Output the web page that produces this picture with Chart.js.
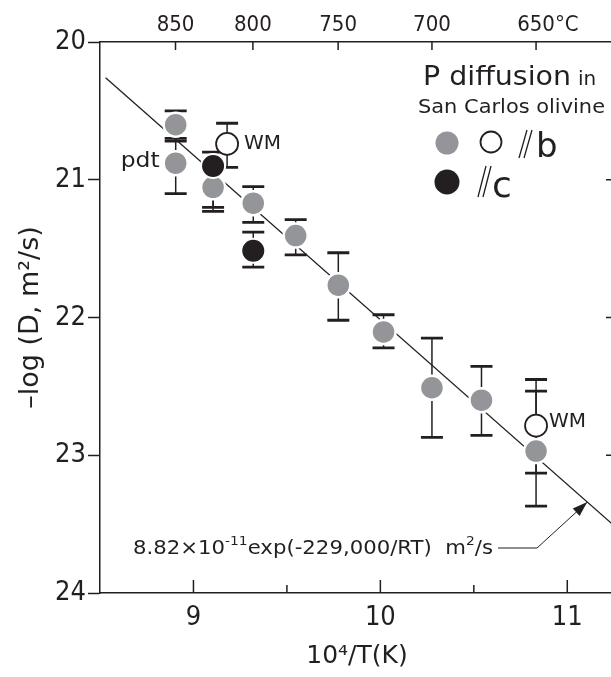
<!DOCTYPE html>
<html>
<head>
<meta charset="utf-8">
<title>P diffusion in San Carlos olivine</title>
<script src="https://cdn.jsdelivr.net/npm/chart.js@4.4.0/dist/chart.umd.min.js"></script>
<style>
  html, body { margin:0; padding:0; background:#fff; overflow:hidden; }
  #wrap { width:614px; height:677px; }
</style>
</head>
<body>
<div id="wrap"><canvas id="chart" width="614" height="677"></canvas></div>
<script>
/* -log D (m^2/s) against 10^4/T(K) */

// grey filled circles: // b
const grayX  = [8.905, 8.905, 9.105, 9.32, 9.547, 9.775, 10.017, 10.276, 10.541, 10.833];
const grayY  = [20.60, 20.88, 21.055, 21.17, 21.405, 21.765, 22.105, 22.51, 22.60, 22.97];
const grayLo = [20.50, 20.72, 20.93, 21.05, 21.29, 21.53, 21.98, 22.15, 22.355, 22.45];
const grayHi = [20.70, 21.10, 21.23, 21.31, 21.545, 22.02, 22.22, 22.87, 22.855, 23.37];

// open circles (WM): // b
const openX  = [9.18, 10.833];
const openY  = [20.74, 22.785];
const openLo = [20.59, 22.535];
const openHi = [20.91, 23.13];

// black circles: // c
const blackX  = [9.105, 9.32];
const blackY  = [20.90, 21.515];
const blackLo = [20.80, 21.38];
const blackHi = [21.20, 21.635];

// Arrhenius fit line, read at both ends
const fitX = [8.53, 11.25];
const fitY = [20.26, 23.51];

const xTicks = [9, 9.5, 10, 10.5, 11];
const yTicks = [20, 21, 22, 23, 24];
const tempLabels = ["850", "800", "750", "700", "650"];
const tempX = [8.904, 9.318, 9.774, 10.276, 10.833];

const INK = "#231f20";
const GRAY = "#939598";
const TICK_FONT = "'DejaVu Sans Condensed', 'Liberation Sans Narrow', 'DejaVu Sans', sans-serif";
const TEXT_FONT = "'DejaVu Sans', 'Liberation Sans', sans-serif";

function pts(xs, ys){
  return xs.map((x,i)=>({x:x, y:ys[i]}));
}

function txt(ctx, str, x, y, size, align){
  ctx.font = size + "px " + TEXT_FONT;
  ctx.textAlign = align || "left";
  ctx.textBaseline = "alphabetic";
  ctx.fillText(str, x, y);
}

// pieces of text with superscripts, squeezed/stretched to a width if given
function richText(ctx, segs, x, y, targetW){
  let w = 0;
  segs.forEach(s=>{ ctx.font = s.size + "px " + TEXT_FONT; w += ctx.measureText(s.t).width; });
  const sx = targetW ? targetW / w : 1;
  ctx.save();
  ctx.translate(x, y);
  ctx.scale(sx, 1);
  let cx = 0;
  segs.forEach(s=>{
    ctx.font = s.size + "px " + TEXT_FONT;
    ctx.textAlign = "left";
    ctx.textBaseline = "alphabetic";
    ctx.fillText(s.t, cx, s.dy || 0);
    cx += ctx.measureText(s.t).width;
  });
  ctx.restore();
}

function slashes(ctx, x, yTop, yBot){
  ctx.lineWidth = 1.3;
  ctx.beginPath();
  ctx.moveTo(x, yBot); ctx.lineTo(x + 8, yTop);
  ctx.moveTo(x + 5, yBot); ctx.lineTo(x + 13, yTop);
  ctx.stroke();
}

/* PLUGINS */
const errorBars = {
  id: "errorBars",
  beforeDatasetsDraw(chart){
    const {ctx, scales:{x, y}} = chart;
    const sets = [[grayX, grayLo, grayHi], [openX, openLo, openHi], [blackX, blackLo, blackHi]];
    ctx.save();
    ctx.strokeStyle = INK;
    sets.forEach(([xs, lo, hi])=>{
      xs.forEach((v,i)=>{
        const px = x.getPixelForValue(v);
        const p1 = y.getPixelForValue(lo[i]);
        const p2 = y.getPixelForValue(hi[i]);
        ctx.lineWidth = 1.5;
        ctx.beginPath(); ctx.moveTo(px, p1); ctx.lineTo(px, p2); ctx.stroke();
        ctx.lineWidth = 2.8;
        ctx.beginPath();
        ctx.moveTo(px - 11, p1); ctx.lineTo(px + 11, p1);
        ctx.moveTo(px - 11, p2); ctx.lineTo(px + 11, p2);
        ctx.stroke();
      });
    });
    ctx.restore();
  }
};

const decor = {
  id: "decor",
  afterDraw(chart){
    const {ctx, chartArea:a, scales:{x, y}} = chart;
    ctx.save();
    ctx.strokeStyle = INK;
    ctx.fillStyle = INK;

    // inward ticks: bottom, top, right
    ctx.lineWidth = 1.5;
    ctx.beginPath();
    xTicks.forEach(v=>{
      const px = x.getPixelForValue(v);
      const len = Number.isInteger(v) ? 13 : 8;
      ctx.moveTo(px, a.bottom); ctx.lineTo(px, a.bottom - len);
    });
    tempX.forEach(v=>{
      const px = x.getPixelForValue(v);
      ctx.moveTo(px, a.top); ctx.lineTo(px, a.top + 8);
    });
    yTicks.slice(1, -1).forEach(v=>{
      const py = y.getPixelForValue(v);
      ctx.moveTo(a.right, py); ctx.lineTo(a.right - 8, py);
    });
    ctx.stroke();

    // degree sign after the last top label
    ctx.font = "22px " + TICK_FONT;
    const lastX = x.getPixelForValue(tempX[tempX.length - 1]);
    const half = ctx.measureText(tempLabels[tempLabels.length - 1]).width / 2;
    ctx.textAlign = "left";
    ctx.textBaseline = "alphabetic";
    ctx.fillText("°C", lastX + half, 31);

    // legend
    richText(ctx, [{t:"P diffusion", size:26}], 423, 85, 148);
    txt(ctx, "in", 578, 85, 20);
    richText(ctx, [{t:"San Carlos olivine", size:19}], 418, 113, 187);

    ctx.beginPath(); ctx.arc(447, 143, 11.5, 0, Math.PI * 2); ctx.fillStyle = GRAY; ctx.fill();
    ctx.beginPath(); ctx.arc(491, 142, 10.5, 0, Math.PI * 2); ctx.fillStyle = "#fff"; ctx.fill();
    ctx.lineWidth = 1.8; ctx.stroke();
    ctx.beginPath(); ctx.arc(447, 182, 12.5, 0, Math.PI * 2); ctx.fillStyle = INK; ctx.fill();
    slashes(ctx, 519, 130, 158);
    slashes(ctx, 478, 166, 197);
    txt(ctx, "b", 536, 157, 34);
    txt(ctx, "c", 492, 197, 36);

    // point labels
    const wm1x = x.getPixelForValue(openX[0]), wm1y = y.getPixelForValue(openY[0]);
    txt(ctx, "WM", wm1x + 17, wm1y + 5, 20);
    const wm2x = x.getPixelForValue(openX[1]), wm2y = y.getPixelForValue(openY[1]);
    txt(ctx, "WM", wm2x + 13, wm2y + 1, 20);
    const pdx = x.getPixelForValue(grayX[1]), pdy = y.getPixelForValue(grayY[1]);
    richText(ctx, [{t:"pdt", size:21}], pdx - 55, pdy + 4, 39);

    // fit equation and arrow
    richText(ctx, [
      {t:"8.82×10", size:20},
      {t:"-11", size:13, dy:-9},
      {t:"exp(-229,000/RT)  m", size:20},
      {t:"2", size:13, dy:-9},
      {t:"/s", size:20}
    ], 133, 554, 360);

    const tipX = x.getPixelForValue(11.107), tipY = y.getPixelForValue(23.34);
    const kx = 537, ky = 548;
    ctx.lineWidth = 1;
    ctx.beginPath();
    ctx.moveTo(498, ky); ctx.lineTo(kx, ky); ctx.lineTo(tipX, tipY);
    ctx.stroke();
    const ang = Math.atan2(tipY - ky, tipX - kx);
    ctx.beginPath();
    ctx.moveTo(tipX, tipY);
    ctx.lineTo(tipX - 15 * Math.cos(ang) + 5 * Math.sin(ang), tipY - 15 * Math.sin(ang) - 5 * Math.cos(ang));
    ctx.lineTo(tipX - 15 * Math.cos(ang) - 5 * Math.sin(ang), tipY - 15 * Math.sin(ang) + 5 * Math.cos(ang));
    ctx.closePath();
    ctx.fillStyle = INK;
    ctx.fill();

    ctx.restore();
  }
};

/* CHART */
new Chart(document.getElementById("chart"), {
  type: "scatter",
  data: {
    datasets: [
      { label:"c", data: pts(blackX, blackY), pointRadius:12, pointBackgroundColor:INK,
        pointBorderColor:"#fff", pointBorderWidth:2, order:0 },
      { label:"b WM", data: pts(openX, openY), pointRadius:11, pointBackgroundColor:"#fff",
        pointBorderColor:INK, pointBorderWidth:1.8, order:1 },
      { label:"b", data: pts(grayX, grayY), pointRadius:12, pointBackgroundColor:GRAY,
        pointBorderColor:"#fff", pointBorderWidth:2.5, order:2 },
      { label:"fit", data: pts(fitX, fitY), showLine:true, borderColor:INK, borderWidth:1.3,
        pointRadius:0, order:3 }
    ]
  },
  options: {
    responsive: false,
    animation: false,
    devicePixelRatio: 1,
    layout: { padding: 0, autoPadding: false },
    plugins: { legend:{display:false}, tooltip:{enabled:false} },
    scales: {
      x: {
        type: "linear", position: "bottom", min: 8.5, max: 11.25,
        afterBuildTicks: s => { s.ticks = xTicks.map(v=>({value:v})); },
        afterFit: s => { s.height = 84; },
        ticks: { callback: v => Number.isInteger(v) ? String(v) : "", autoSkip:false, maxRotation:0,
                 font:{family:TICK_FONT, size:27}, color:INK, padding:9 },
        grid: { drawOnChartArea:false, drawTicks:false },
        border: { display:true, color:INK, width:1.5 },
        title: { display:true, text:"10⁴/T(K)", color:INK, font:{family:TEXT_FONT, size:25},
                 padding:{top:0, bottom:6} }
      },
      x2: {
        type: "linear", position: "top", min: 8.5, max: 11.25,
        afterBuildTicks: s => { s.ticks = tempX.map(v=>({value:v})); },
        afterFit: s => { s.height = 42; },
        ticks: { callback: (v, i) => tempLabels[i], autoSkip:false, maxRotation:0,
                 font:{family:TICK_FONT, size:22}, color:INK, padding:4 },
        grid: { drawOnChartArea:false, drawTicks:false },
        border: { display:true, color:INK, width:1.5 }
      },
      y: {
        type: "linear", position: "left", min: 20, max: 24, reverse: true,
        afterBuildTicks: s => { s.ticks = yTicks.map(v=>({value:v})); },
        afterFit: s => { s.width = 100; },
        ticks: { font:{family:TICK_FONT, size:27}, color:INK, padding:2 },
        grid: { drawOnChartArea:false, drawTicks:true, tickLength:12, tickColor:INK, tickWidth:1.5 },
        border: { display:true, color:INK, width:1.5 },
        title: { display:true, text:"–log (D, m²/s)", color:INK, font:{family:TEXT_FONT, size:27},
                 padding:{top:15, bottom:0} }
      }
    }
  },
  plugins: [errorBars, decor]
});
</script>
</body>
</html>
